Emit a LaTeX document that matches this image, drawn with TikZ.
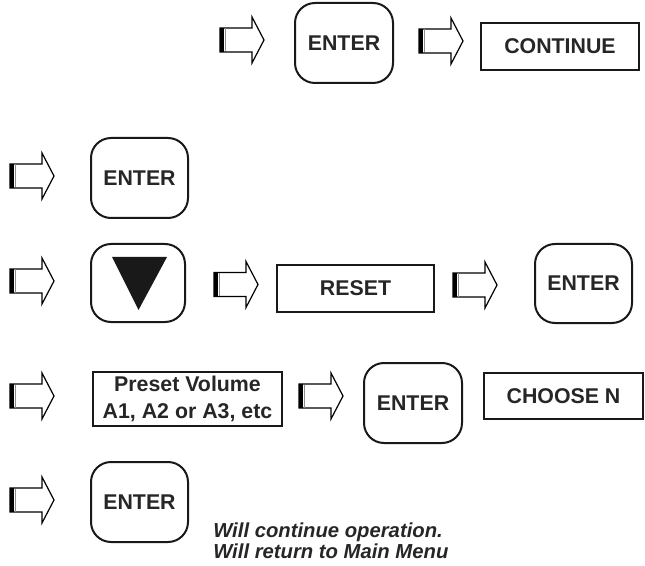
\documentclass[tikz,border=0pt]{standalone}
\usepackage{fontspec}
\setmainfont{Liberation Sans}
\begin{document}
\begin{tikzpicture}[x=0.75pt,y=-0.75pt,
  keybox/.style={draw=black!90, line width=1.5pt, rounded corners=15pt, inner sep=0pt,
    font=\fontsize{16}{18}\selectfont\bfseries, text=black!85},
  dispbox/.style={draw=black!90, line width=1.5pt, inner sep=0pt,
    font=\fontsize{16}{18}\selectfont\bfseries, text=black!85},
  note/.style={font=\fontsize{15.2}{16}\selectfont\bfseries\itshape, text=black!85, inner sep=0pt, anchor=base west},
  blockarrow/.pic={
    \draw[line width=0.9pt, line join=miter] (0,-12) -- (32,-12) -- (32,-23) -- (44,0) -- (32,23) -- (32,12) -- (0,12) -- cycle;
    \fill[black] (0,-12) rectangle (4,12);
    \draw[black!45, line width=0.8pt] (5.2,-11.5) -- (5.2,11.5);
  }]
\useasboundingbox (0,0) rectangle (645,566);

% Row 1
\pic (a1) at (220,40) {blockarrow};
\node[keybox, minimum width=73.5pt, minimum height=60pt] (e1) at (344,43) {ENTER};
\pic (a2) at (419,41) {blockarrow};
\node[dispbox, minimum width=118.5pt, minimum height=35.25pt] (cont) at (560,46.5) {CONTINUE};

% Row 2
\pic (a3) at (10,176) {blockarrow};
\node[keybox, minimum width=72.75pt, minimum height=60pt] (e2) at (139.5,178) {ENTER};

% Row 3
\pic (a4) at (10,281) {blockarrow};
\node[keybox, minimum width=70.5pt, minimum height=58.5pt] (down) at (138,283) {};
\fill[black!90] (112,257) -- (167,257) -- (138.5,310) -- cycle;
\pic (a5) at (214,284.5) {blockarrow};
\node[dispbox, minimum width=117.75pt, minimum height=35.25pt] (reset) at (355.5,288.5) {RESET};
\pic (a6) at (453,285) {blockarrow};
\node[keybox, minimum width=72.75pt, minimum height=59.25pt] (e3) at (583.5,283.5) {ENTER};

% Row 4
\pic (a7) at (10,396) {blockarrow};
\node[dispbox, minimum width=141.75pt, minimum height=40.5pt, align=center,
  font=\fontsize{16}{20.25}\selectfont\bfseries] (preset) at (187.5,399) {Preset Volume\\A1, A2 or A3, etc};
\pic (a8) at (299,396) {blockarrow};
\node[keybox, minimum width=73.5pt, minimum height=60pt] (e4) at (413,403) {ENTER};
\node[dispbox, minimum width=119.25pt, minimum height=34.5pt] (choose) at (563.5,396) {CHOOSE N};

% Row 5
\pic (a9) at (10,500) {blockarrow};
\node[keybox, minimum width=72.75pt, minimum height=60pt] (e5) at (139.5,502) {ENTER};
\node[note] (n1) at (213,537) {Will continue operation.};
\node[note] (n2) at (213,558) {Will return to Main Menu};
\end{tikzpicture}
\end{document}
